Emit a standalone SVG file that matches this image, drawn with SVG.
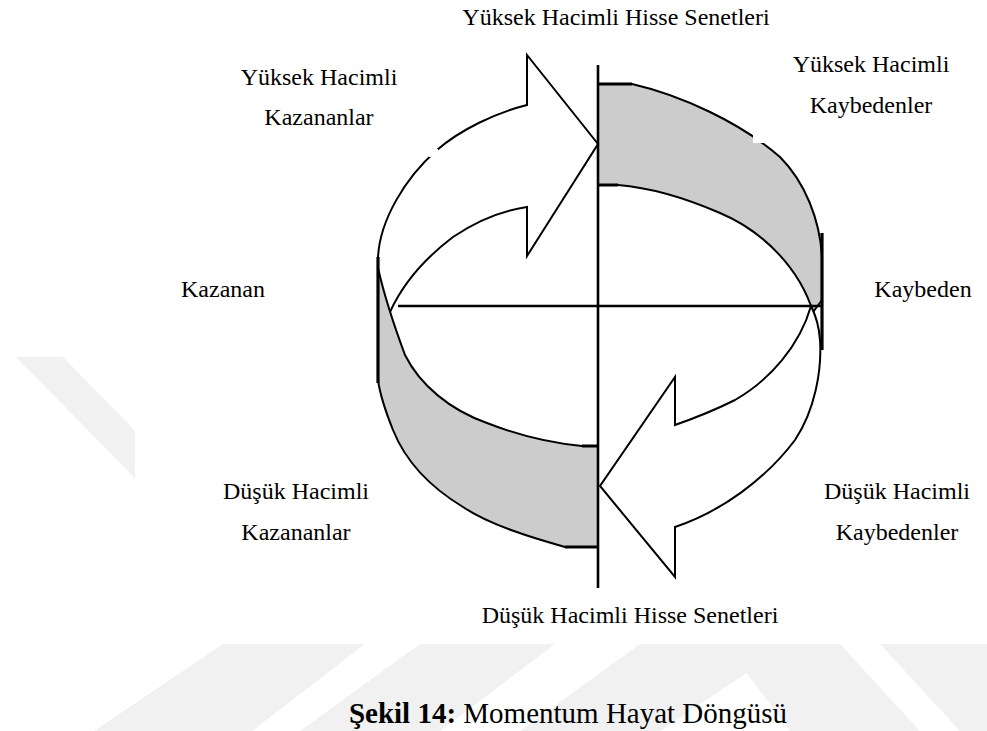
<svg xmlns="http://www.w3.org/2000/svg" width="987" height="731" viewBox="0 0 987 731">
  <style>
    .lbl { font-size: 24px; fill: #000; text-anchor: middle; }
    .cap { font-size: 29px; fill: #000; text-anchor: middle; }
    .edge { fill: none; stroke: #000; stroke-width: 2; stroke-linejoin: miter; }
    .band { fill: #cccccc; stroke: #000; stroke-width: 2; }
    .arrow { fill: #fff; stroke: #000; stroke-width: 2; }
    .axis { stroke: #000; stroke-width: 2.6; fill: none; }
    .thick { stroke: #000; stroke-width: 3.2; fill: none; }
    .wm { fill: #f1f1f1; }
  </style>

  <rect width="987" height="731" fill="#fff"/>

  <!-- faint background stripes -->
  <g id="backdrop">
    <polygon class="wm" points="16,357 63,357 135,431 135,478"/>
    <polygon class="wm" points="94,731 223,644 365,644 252,731"/>
    <polygon class="wm" points="300,731 420,644 555,644 440,731"/>
    <polygon class="wm" points="520,731 640,644 790,644 660,731"/>
    <polygon class="wm" points="725,644 840,644 920,731 790,731"/>
    <polygon class="wm" points="880,644 987,644 987,731 960,731"/>
  </g>

  <!-- shaded band segments of the ring -->
  <g id="band-upper-right">
    <path class="band" d="M598,84 L632,84 C680,95 740,122 780,157 C805,182 820,220 822,257 L822,300 L813,312 C800,270 765,232 720,213 C690,200 655,188 618,185 L598,185 Z"/>
  </g>
  <g id="band-lower-left">
    <path class="band" d="M378,268 C383,290 392,320 405,355 C420,385 450,410 487,423 C520,436 550,443 582,446 L598,446 L598,547 L565,547 C530,537 490,525 463,507 C430,487 405,460 393,430 C385,410 380,395 378,380 Z"/>
  </g>

  <!-- sweeping arrows -->
  <g id="arrow-upper">
    <path class="edge" d="M390,312 C400,290 420,262 453,237 C478,220 500,211 527,207 L527,256 L598,144 L527,55 L527,105 C495,113 460,130 437,150 C405,178 380,220 378,257"/>
  </g>
  <g id="arrow-lower">
    <path class="arrow" d="M811,306 C800,345 770,380 735,400 C715,410 695,418 675,425 L675,377 L600,486 L675,577 L675,527 C720,512 765,480 795,440 C815,410 822,370 820,340 C819,325 815,314 811,306 Z"/>
  </g>

  <!-- axes and heavy rims -->
  <g id="connectors">
    <path class="axis" d="M598,65 V588"/>
    <path class="axis" d="M398,306 H822"/>
    <path class="thick" d="M378,257 V383"/>
    <path class="thick" d="M822,233 V350"/>
    <path class="thick" d="M598,84 H632 M598,185 H618 M582,446 H598 M565,547 H598"/>
  </g>

  <!-- small gaps in the outlines -->
  <rect x="429" y="149" width="9" height="8" fill="#fff"/>
  <rect x="753" y="134" width="14" height="9" fill="#fff"/>

  <g id="labels" font-family="Liberation Serif, Tinos, Times New Roman, Times, Noto Serif, DejaVu Serif, serif">
    <text class="lbl" x="616" y="25">Yüksek Hacimli Hisse Senetleri</text>
    <text class="lbl" x="319" y="85">Yüksek Hacimli</text>
    <text class="lbl" x="319" y="125">Kazananlar</text>
    <text class="lbl" x="871" y="72">Yüksek Hacimli</text>
    <text class="lbl" x="871" y="113">Kaybedenler</text>
    <text class="lbl" x="223" y="297">Kazanan</text>
    <text class="lbl" x="923" y="297">Kaybeden</text>
    <text class="lbl" x="296" y="499">Düşük Hacimli</text>
    <text class="lbl" x="296" y="540">Kazananlar</text>
    <text class="lbl" x="897" y="499">Düşük Hacimli</text>
    <text class="lbl" x="897" y="540">Kaybedenler</text>
    <text class="lbl" x="630" y="623">Düşük Hacimli Hisse Senetleri</text>
    <text class="cap" x="568" y="723"><tspan font-weight="bold">Şekil 14:</tspan> Momentum Hayat Döngüsü</text>
  </g>
</svg>
